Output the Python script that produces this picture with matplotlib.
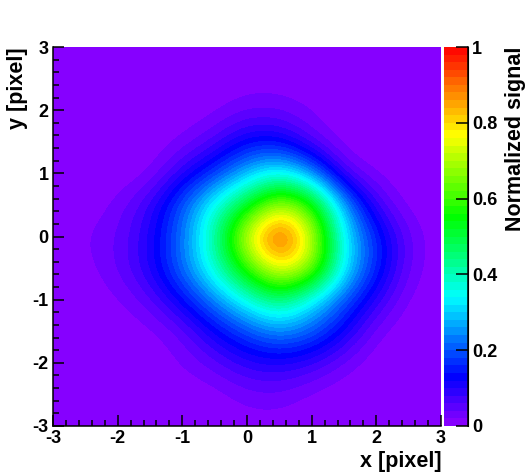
import numpy as np
import matplotlib
matplotlib.use("Agg")
import matplotlib.pyplot as plt
from matplotlib.colors import LinearSegmentedColormap, BoundaryNorm, ListedColormap
from matplotlib.ticker import MultipleLocator

x_nodes = [-3, -2.5, -2, -1.5, -1, -0.5, 0, 0.5, 1, 1.5, 2, 2.5, 3]
y_nodes = [3, 2.5, 2, 1.5, 1, 0.5, 0, -0.5, -1, -1.5, -2, -2.5, -3]
signal = [
    [0, 0, 0, 0, 0, 0, 0, 0, 0, 0, 0, 0, 0],
    [0, 0, 0, 0, 0, 0, 0.005, 0.005, 0, 0, 0, 0, 0],
    [0, 0, 0, 0, 0, 0.01, 0.035, 0.035, 0.015, 0, 0, 0, 0],
    [0, 0, 0, 0, 0.02, 0.06, 0.13, 0.13, 0.05, 0, 0, 0, 0],
    [0, 0, 0, 0.01, 0.09, 0.17, 0.28, 0.36, 0.25, 0.05, 0.01, 0, 0],
    [0, 0, 0.025, 0.08, 0.20, 0.36, 0.52, 0.72, 0.60, 0.26, 0.07, 0.005, 0],
    [0, 0.02, 0.04, 0.10, 0.22, 0.42, 0.76, 1.0, 0.75, 0.33, 0.16, 0.04, 0],
    [0, 0.01, 0.04, 0.10, 0.22, 0.38, 0.60, 0.80, 0.70, 0.33, 0.16, 0.035, 0],
    [0, 0, 0.015, 0.05, 0.13, 0.24, 0.36, 0.47, 0.33, 0.20, 0.09, 0.01, 0],
    [0, 0, 0, 0.01, 0.04, 0.12, 0.19, 0.25, 0.21, 0.12, 0.02, 0, 0],
    [0, 0, 0, 0, 0.02, 0.05, 0.09, 0.10, 0.08, 0.03, 0, 0, 0],
    [0, 0, 0, 0, 0, 0.005, 0.03, 0.035, 0.01, 0, 0, 0, 0],
    [0, 0, 0, 0, 0, 0, 0.005, 0.005, 0, 0, 0, 0, 0],
]
axis_ticks = [-3, -2, -1, 0, 1, 2, 3]
bar_ticks = [0, 0.2, 0.4, 0.6, 0.8, 1]
bar_labels = ["0", "0.2", "0.4", "0.6", "0.8", "1"]

plt.rcParams["font.family"] = ["Liberation Sans", "DejaVu Sans"]
plt.rcParams["font.weight"] = "bold"

W, H = 526, 474
fig = plt.figure(figsize=(W / 100, H / 100), dpi=100)

def box(l, t, r, b):
    return [l / W, 1 - b / H, (r - l) / W, (b - t) / H]

ax = fig.add_axes(box(53, 47, 441, 426))
cax = fig.add_axes(box(444, 47, 468, 426))

base = LinearSegmentedColormap.from_list(
    "rootlike",
    [(0, (0.56, 0, 1)), (0.13, (0, 0, 1)), (0.34, (0, 1, 1)),
     (0.55, (0, 1, 0)), (0.77, (1, 1, 0)), (1, (1, 0, 0))])
levels = np.linspace(0, 1, 51)
cmap = ListedColormap(base((levels[:-1] + 0.01)))
cmap.set_under(cmap(0))
cmap.set_over(cmap(49))
norm = BoundaryNorm(levels, 50)

Z = np.array(signal, dtype=float)
dx = 0.25
im = ax.imshow(Z, cmap=cmap, norm=norm, interpolation="bicubic",
               interpolation_stage="data", aspect="auto",
               extent=[x_nodes[0] - dx, x_nodes[-1] + dx,
                       y_nodes[-1] - dx, y_nodes[0] + dx])
ax.set_xlim(-3, 3)
ax.set_ylim(-3, 3)
ax.set_xticks(axis_ticks)
ax.set_yticks(axis_ticks)
ax.set_xticklabels([str(v) for v in axis_ticks])
ax.set_yticklabels([str(v) for v in axis_ticks])
ax.xaxis.set_minor_locator(MultipleLocator(0.2))
ax.yaxis.set_minor_locator(MultipleLocator(0.2))
ax.tick_params(which="major", direction="in", length=8, width=1.1, labelsize=13, pad=3)
ax.tick_params(which="minor", direction="in", length=4, width=1.1)
for s in ax.spines.values():
    s.set_linewidth(1.1)
ax.spines["top"].set_visible(False)
ax.spines["right"].set_visible(False)

cb = fig.colorbar(im, cax=cax, spacing="proportional", drawedges=False)
cb.outline.set_visible(False)
cb.set_ticks(bar_ticks, labels=bar_labels)
cb.ax.minorticks_off()
cax.tick_params(which="major", direction="in", length=9, width=1.1, labelsize=13, pad=3)
cax.spines["right"].set_visible(True)
cax.plot([1, 1], [0, 1], color="k", lw=1.1, transform=cax.transAxes, clip_on=False)

fig.text(442 / W, 1 - 461 / H, "x [pixel]", ha="right", va="center", fontsize=15.5, fontweight="bold")
fig.text(17 / W, 1 - 47 / H, "y [pixel]", ha="center", va="top", rotation=90, fontsize=15.5, fontweight="bold")
fig.text(515 / W, 1 - 47 / H, "Normalized signal", ha="center", va="top", rotation=90, fontsize=15.5, fontweight="bold")

fig.savefig("out.png", dpi=100)
